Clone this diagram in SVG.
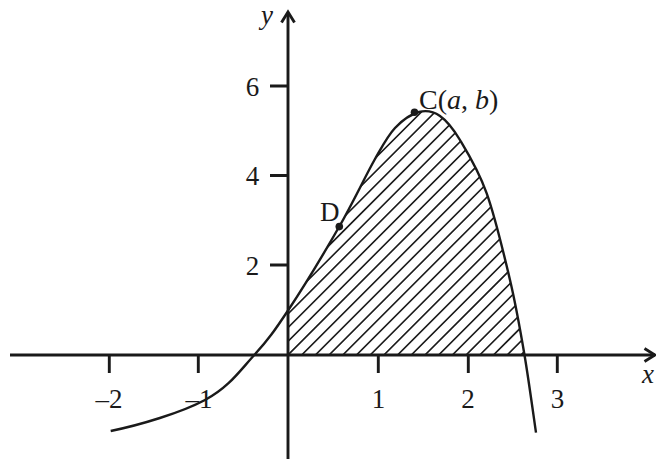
<svg xmlns="http://www.w3.org/2000/svg" width="656" height="459" viewBox="0 0 656 459">
<style>
.ax{stroke:#1a1a1a;stroke-width:2.9;fill:none}
.cv{stroke:#1a1a1a;stroke-width:2.4;fill:none}
.ht{stroke:#1a1a1a;stroke-width:1.6;fill:none}
.t{font-family:"Liberation Serif","Times New Roman",serif;font-size:27px;fill:#1a1a1a}
.i{font-style:italic}
</style>
<defs>
<clipPath id="region">
<path d="M288 355 L288 310.3 L289 309 C303.2 287.6 325.0 251.5 339.3 226.5 C353.6 201.5 365.7 175.4 375 159 C384.3 142.6 387.7 135.8 395 128 C402.3 120.2 411.5 114 419 112 C426.5 110 433.2 111.3 440 116 C446.8 120.7 452.2 127.1 460 140 C467.8 152.9 478.4 170.0 486.7 193.3 C495.0 216.6 503.7 253.1 510 280 C516.3 307.0 520.2 329.6 524.5 355 Z"/>
</clipPath>
</defs>
<rect width="656" height="459" fill="#ffffff"/>
<g id="hatch" clip-path="url(#region)">
<path class="ht" d="M119.7 400L429.7 90M133.4 400L443.4 90M147.1 400L457.1 90M160.8 400L470.8 90M174.5 400L484.5 90M188.2 400L498.2 90M201.9 400L511.9 90M215.6 400L525.6 90M229.3 400L539.3 90M243 400L553 90M256.7 400L566.7 90M270.4 400L580.4 90M284.1 400L594.1 90M297.8 400L607.8 90M311.5 400L621.5 90M325.2 400L635.2 90M338.9 400L648.9 90M352.6 400L662.6 90M366.3 400L676.3 90M380 400L690 90M393.7 400L703.7 90M407.4 400L717.4 90M421.1 400L731.1 90M434.8 400L744.8 90M448.5 400L758.5 90M462.2 400L772.2 90M475.9 400L785.9 90"/>
</g>
<g id="axes">
<line class="ax" x1="10" y1="355" x2="655" y2="355"/>
<polyline class="ax" points="644.5,348.5 655,355 644.5,361.5"/>
<line class="ax" x1="288" y1="459" x2="288" y2="13"/>
<polyline class="ax" points="281.5,22.5 288,12 294.5,22.5"/>
<path class="ax" d="M109.3 355V373M198.3 355V373M378.3 355V373M468.3 355V373M557.3 355V373M270 86H288M270 175.5H288M270 265H288"/>
</g>
<g id="curve">
<path class="cv" d="M110.7 431 C140 425 181.1 412.7 205 400 C228.9 387.3 240.3 370.2 254.3 355 C268.3 339.8 274.8 330.4 289 309 C303.2 287.6 325.0 251.5 339.3 226.5 C353.6 201.5 365.7 175.4 375 159 C384.3 142.6 387.7 135.8 395 128 C402.3 120.2 411.5 114 419 112 C426.5 110 433.2 111.3 440 116 C446.8 120.7 452.2 127.1 460 140 C467.8 152.9 478.4 170.0 486.7 193.3 C495.0 216.6 503.7 253.1 510 280 C516.3 307.0 520.2 329.6 524.5 355 C528.8 380.5 534.1 419.8 536 432.7"/>
</g>
<g id="point-C">
<circle cx="414.5" cy="112.3" r="3.8" fill="#1a1a1a"/>
<text class="t" x="419" y="109" style="font-size:28px">C(<tspan class="i">a</tspan>, <tspan class="i">b</tspan>)</text>
</g>
<g id="point-D">
<circle cx="339.3" cy="226.6" r="3.8" fill="#1a1a1a"/>
<text class="t" x="320" y="221">D</text>
</g>
<g id="labels" class="t">
<text class="t i" x="261" y="24">y</text>
<text class="t i" x="642" y="383">x</text>
<text class="t" x="252.5" y="95.7" text-anchor="middle">6</text>
<text class="t" x="252.5" y="185" text-anchor="middle">4</text>
<text class="t" x="252.5" y="274.5" text-anchor="middle">2</text>
<text class="t" x="109" y="408" text-anchor="middle">–2</text>
<text class="t" x="199" y="408" text-anchor="middle">–1</text>
<text class="t" x="378.5" y="408" text-anchor="middle">1</text>
<text class="t" x="468" y="408" text-anchor="middle">2</text>
<text class="t" x="557.5" y="408" text-anchor="middle">3</text>
</g>
</svg>
